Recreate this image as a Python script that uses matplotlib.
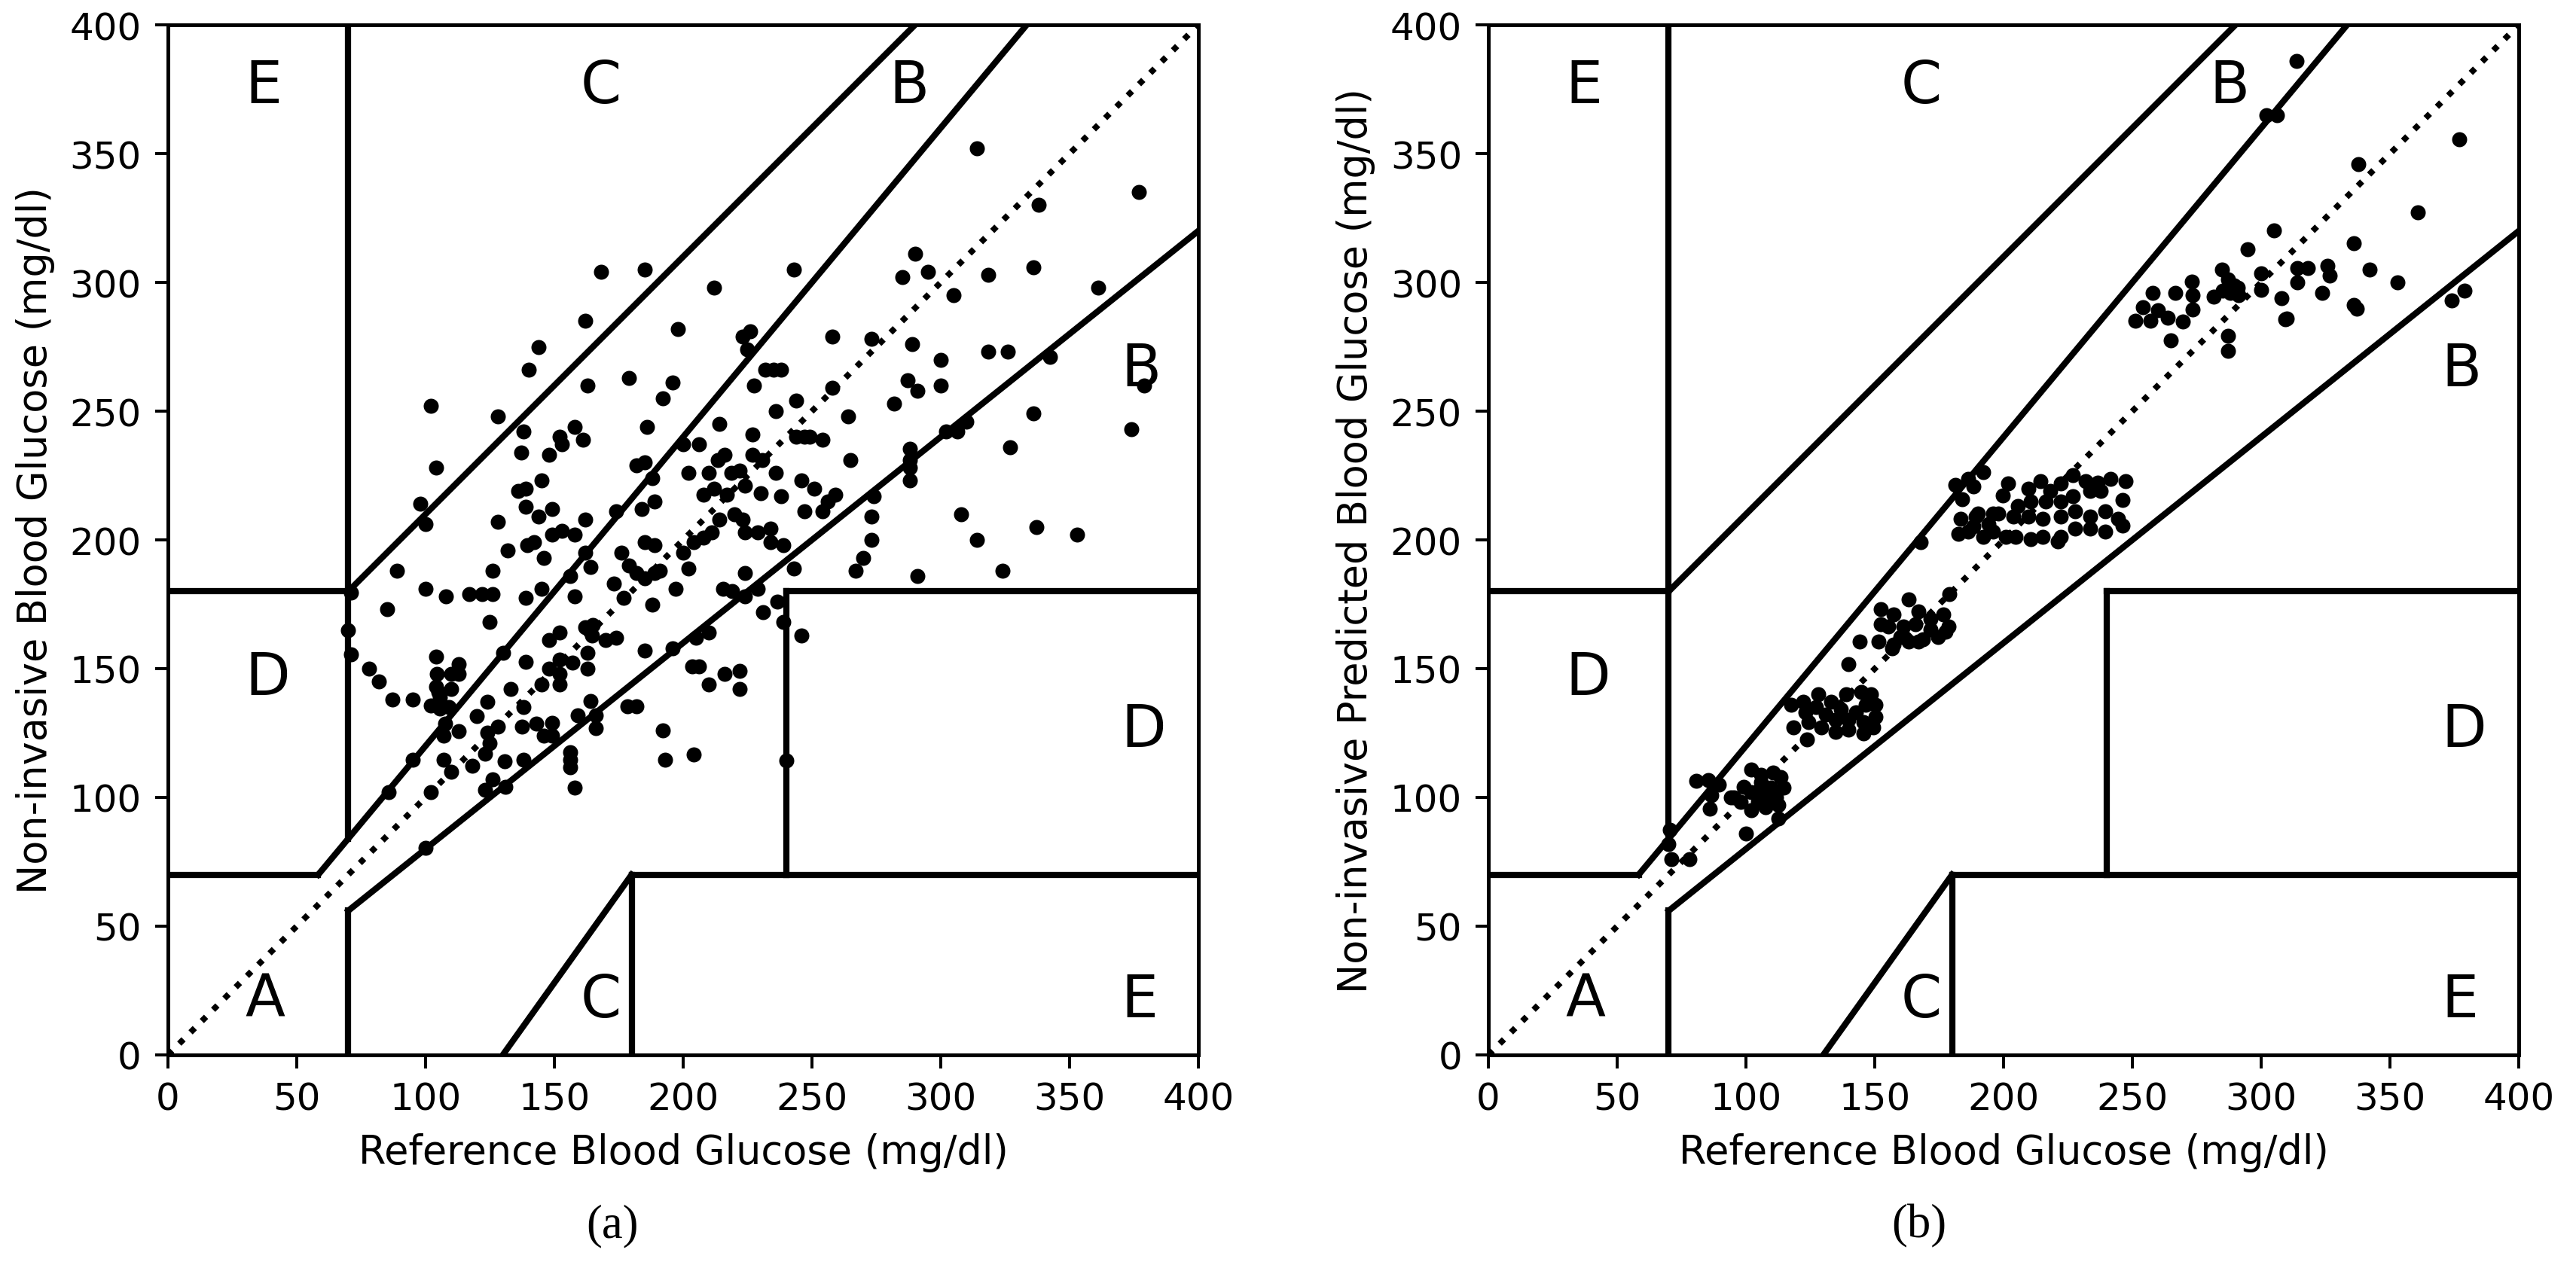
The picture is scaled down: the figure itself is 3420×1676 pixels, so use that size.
import matplotlib
matplotlib.use("Agg")
import matplotlib.pyplot as plt

# (a) reference vs non-invasive glucose
ref_a = [168, 185, 212, 162, 198, 144, 140, 163, 179, 196, 192, 102, 128, 138, 152, 153, 158, 161, 137, 148,
         186, 214, 104, 182, 185, 188, 200, 206, 216, 213.5, 202, 210, 218.6, 222, 223, 226, 225, 227.6, 227, 227,
         145,
         314, 377, 338, 243, 290, 285, 295, 318.5, 336, 305, 361, 258, 273, 289, 232, 235, 238, 318.5, 326, 300,
         342.5, 287, 291, 300, 379, 258, 244, 236, 282, 264, 336, 374, 244, 247, 249, 254, 310, 302, 306.5, 327,
         288, 288, 288, 288, 265, 230.7, 236, 246, 251,
         136, 139, 98, 100, 139, 149, 144, 128, 162, 149, 153, 158, 139.6, 142, 132, 146, 174, 184, 189, 208,
         212, 217, 224, 185, 189, 176, 162, 164, 156, 179, 182, 185, 189, 191, 200, 204, 208, 211, 214, 220,
         224, 223, 202, 173, 197, 188, 177, 215.5, 219, 224, 224, 158, 139, 145, 126, 89, 100, 108, 117, 122,
         126, 85, 71, 70, 71, 125, 162, 165, 164.5, 170, 174, 148, 152, 130, 163, 185, 196, 205, 210, 139,
         152, 157, 163, 148, 152, 152, 145, 203.5, 206, 216, 222, 222, 210, 104, 104.5, 110, 113, 113, 104, 105,
         110, 78, 82, 87, 95, 102, 105.5, 109, 105.5, 107.6, 107, 113, 124, 133, 138, 120, 128, 124, 125, 123,
         137.5, 143, 149, 146, 149, 159, 164, 166, 166, 178.5, 182, 192, 193, 204, 156, 156, 156, 158, 107, 110,
         118, 130.7, 138, 126, 123, 131, 95, 85.6, 102, 100,
         230, 238, 256, 259, 274, 247, 254, 229, 234, 234, 239, 273, 273, 270, 267, 243, 308, 314, 337, 353,
         324, 291, 229, 231, 236.5, 239, 246, 240]
pred_a = [304, 305, 298, 285, 282, 275, 266, 260, 263, 261, 255, 252, 248, 242, 240, 237, 244, 239, 234, 233,
          244, 245, 228, 229, 230, 224, 237, 237, 233, 231, 226, 226, 226, 227, 279, 281, 274, 260, 241, 233,
          223,
          352, 335, 330, 305, 311, 302, 304, 303, 306, 295, 298, 279, 278, 276, 266, 266, 266, 273, 273, 270,
          271, 262, 258, 260, 260, 259, 254, 250, 253, 248, 249, 243, 240, 240, 240, 239, 246, 242, 242, 236,
          235.5, 231, 228, 223, 231, 231, 226, 223, 220,
          219, 220, 214, 206, 213, 212, 209, 207, 208, 202, 203.5, 202, 198, 199, 196, 193, 211, 212, 215, 217.5,
          220, 217.5, 221, 199, 198, 195, 195, 189.5, 186, 190, 187, 185, 187, 188, 195, 199, 201, 203, 208, 210,
          203, 208, 189, 183, 181, 175, 177.5, 181, 180, 178, 187, 178, 177.5, 181, 188, 188, 181, 178, 179, 179,
          179, 173, 179.5, 165, 155.5, 168, 166, 167, 163, 161, 162, 161, 164, 156, 156, 157, 158, 162, 164, 152.6,
          153.5, 152.3, 150, 150, 148, 144, 144, 151, 151, 148, 149, 142, 144, 154.6, 148, 148, 151.7, 148, 143, 141,
          142, 150, 145, 138, 138, 135.6, 134.6, 135, 139, 128.7, 124, 125.8, 137, 142, 135, 131.5, 127.6, 125, 121, 117,
          127.6, 128.6, 129, 124, 124, 132, 137.5, 132, 127, 135.4, 135.4, 126, 114.6, 116.6, 117.5, 114.6, 111.7, 103.7, 114.6, 110,
          112.4, 114, 114.6, 107, 103, 104, 114.6, 102, 102, 80.5,
          218, 217, 215, 217.5, 217, 211, 211, 203, 204.5, 199, 198, 209, 200, 193, 188, 189, 210, 200, 205, 202,
          188, 186, 181, 172, 176, 168, 163, 114.3]

# (b) reference vs non-invasive predicted glucose
ref_b = [70.4, 70, 71, 78, 100, 112.6,
         80.6, 85.5, 89.4, 86.5, 86, 94.2, 102, 105.8, 110.6, 113.5, 114.5, 111.6, 107.7, 101.9,
         98, 103.9, 108.7, 99, 104.8, 112.6, 95.2, 102, 105.8, 109.7, 107.7,
         123.7,
         117.4, 122.3, 128.1, 132.9, 138.8, 144.6, 148.4, 150.4, 150.4, 149.4, 145.5, 139.7, 134.9, 129.1, 124.2,
         118.4, 123.2, 131, 136.8, 142.6, 146.5, 139.7, 145.5, 127.1, 134.9,
         139.7, 144.1,
         152.3, 163, 157.2, 166.9, 155.2, 161, 165.9, 171.7, 176.5, 178.5, 174.6, 168.8, 163, 157.2, 151.4,
         152.3, 177.5, 171.7, 160, 156.7, 166.9,
         167.8, 179,
         181.4, 186.3, 188.2, 192.1, 183.8,
         201.7, 199.8, 205.6, 209.5, 214.3, 218.2, 222.1, 226.9, 231.8, 236.6, 241.5, 247.3, 237.6, 246.3, 233.7,
         226.9, 222.1, 216.3, 210.4, 203.7, 209.5, 215.3, 222.1, 227.9, 233.7, 239.5, 244.4, 246.3, 239.5, 233.7,
         227.9, 222.1, 215.3, 210.4, 204.6, 200.8, 195.9, 192.1, 189.1, 183.4, 182.4, 195.9, 188.2, 221.1,
         186.2, 190.1, 197.9, 194,
         251.2, 257, 263.8, 269.6, 264.8, 287.1, 287.1, 309.3,
         294.8, 284.9, 287, 289.4, 285, 287.9, 291.3, 290.8, 281.7, 273, 273.4, 273.4, 266.7, 257.9, 254, 259.9,
         313.7, 302, 306, 376.8, 337.7, 360.9, 305, 336, 300, 300, 314.1, 318, 325.8, 326.7, 314, 342, 352.9,
         307.8, 323.8, 336, 337, 310, 373.9, 378.9]
pred_b = [87.3, 82, 76, 76, 86, 91.7,
          106.4, 106.8, 104.9, 101, 95.6, 100, 110.7, 108.8, 109.7, 107.8, 103.9, 100, 96.1, 95.1,
          98.1, 101.9, 102.9, 104, 98.1, 97.1, 100, 101.9, 105.8, 103.9, 100,
          122.4,
          136.1, 137.1, 140, 137.1, 140, 140.9, 140, 136.1, 131.2, 127.3, 124.9, 126.3, 125.3, 127.3, 129.2,
          127.3, 133.1, 132.2, 134.1, 133.1, 136.1, 130.2, 129.2, 135.1, 130.2,
          151.7, 160.4,
          173.1, 177, 171.2, 172.1, 166.3, 166.3, 167.3, 169.2, 171.2, 166.3, 162.4, 161.4, 160.4, 159.4, 160.4,
          167.3, 164.4, 165.3, 162.4, 158, 160.4,
          199, 179,
          221.3, 223.8, 220.9, 226.2, 215.9,
          221.8, 217.4, 213.1, 219.8, 222.8, 218.9, 221.8, 225.2, 222.8, 222.3, 223.8, 222.8, 218.9, 215.5, 218.9,
          216.9, 215, 215, 215, 209.1, 209.1, 208.2, 209.1, 211.1, 209.1, 211.1, 208.2, 205.7, 203.3, 204.3,
          204.3, 201.3, 201.3, 200.4, 201.3, 201.3, 203.3, 201.3, 209.1, 208.2, 202.3, 210.1, 205.2, 199.4,
          203.3, 210.1, 210.1, 206.2,
          285.2, 285.2, 286.2, 284.7, 277.4, 279.3, 273.5, 285.7,
          313, 304.9, 301.3, 298.8, 296.9, 296, 294.9, 297.9, 294.4, 300.3, 294.9, 289.6, 296, 296, 290.5, 289.1,
          385.9, 365, 365, 355.6, 346, 327.1, 320.3, 315.1, 303.6, 297.1, 305.6, 305.6, 306.5, 302.6, 300.1, 304.9, 300.1,
          293.8, 295.8, 291.2, 289.9, 286, 292.9, 296.7]

# Clarke error grid boundaries
zone_lines = [([0, 175 / 3], [70, 70]), ([175 / 3, 400 / 1.2], [70, 400]), ([70, 70], [84, 400]),
              ([0, 70], [180, 180]), ([70, 290], [180, 400]), ([70, 70], [0, 56]),
              ([70, 400], [56, 320]), ([180, 180], [0, 70]), ([180, 400], [70, 70]),
              ([240, 240], [70, 180]), ([240, 400], [180, 180]), ([130, 180], [0, 70])]
zone_labels = [(30, 15, "A"), (370, 260, "B"), (280, 370, "B"), (160, 370, "C"), (160, 15, "C"),
               (30, 140, "D"), (370, 120, "D"), (30, 370, "E"), (370, 15, "E")]


def clarke_grid(ax, ref, pred, ylabel):
    ax.scatter(ref, pred, marker='o', color='black', s=16, linewidths=0, zorder=3)
    ax.plot([0, 400], [0, 400], ':', c='black', lw=1.6)
    for xs, ys in zone_lines:
        ax.plot(xs, ys, '-', c='black', lw=1.65)
    for x, y, t in zone_labels:
        ax.text(x, y, t, fontsize=15.5)
    ax.set_xlim(0, 400)
    ax.set_ylim(0, 400)
    ax.set_xticks(range(0, 401, 50))
    ax.set_yticks(range(0, 401, 50))
    ax.tick_params(labelsize=10)
    ax.set_xlabel('Reference Blood Glucose (mg/dl)', fontsize=10.5)
    ax.set_ylabel(ylabel, fontsize=10.5)
    for sp in ax.spines.values():
        sp.set_linewidth(1.0)


fig = plt.figure(figsize=(9.5, 4.6583), dpi=360)
ax1 = fig.add_axes([0.0652, 0.164, 0.4, 0.8157])
ax2 = fig.add_axes([0.5778, 0.164, 0.4, 0.8157])

clarke_grid(ax1, ref_a, pred_a, 'Non-invasive Blood Glucose (mg/dl)')
clarke_grid(ax2, ref_b, pred_b, 'Non-invasive Predicted Blood Glucose (mg/dl)')

fig.text(813 / 3420, 0.020, '(a)', ha='center', va='baseline', fontsize=12.5, family='Liberation Serif')
fig.text(2548 / 3420, 0.020, '(b)', ha='center', va='baseline', fontsize=12.5, family='Liberation Serif')

fig.savefig('out.png', dpi=360)
plt.close(fig)
